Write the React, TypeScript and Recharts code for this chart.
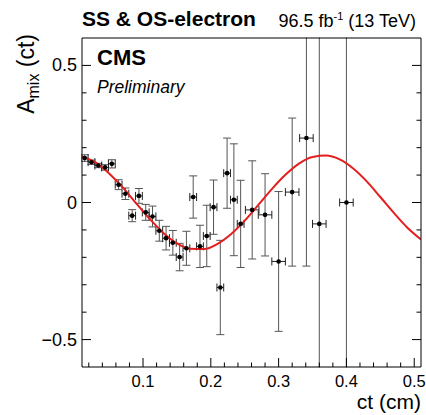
import React from 'react'
import { ComposedChart, Scatter, Line, XAxis, YAxis, ErrorBar } from 'recharts'

// measured points
const ctValues = [
  0.014, 0.024, 0.034, 0.044, 0.054, 0.064, 0.074, 0.084, 0.094, 0.104, 0.114, 0.124,
  0.134, 0.144, 0.154, 0.164, 0.174, 0.184, 0.194, 0.204, 0.214, 0.224, 0.234, 0.244,
  0.261, 0.28, 0.3, 0.32, 0.341, 0.36, 0.4,
]
const amixValues = [
  0.162, 0.147, 0.135, 0.128, 0.141, 0.065, 0.032, -0.048, 0.024, -0.036, -0.051, -0.103,
  -0.13, -0.147, -0.199, -0.167, 0.02, -0.16, -0.122, -0.017, -0.31, 0.107, 0.01, -0.078,
  -0.027, -0.045, -0.215, 0.038, 0.235, -0.078, 0.0,
]
const amixErrors = [
  0.012, 0.008, 0.008, 0.01, 0.015, 0.018, 0.021, 0.022, 0.027, 0.029, 0.038, 0.038,
  0.043, 0.045, 0.05, 0.062, 0.077, 0.077, 0.112, 0.099, 0.172, 0.128, 0.204, 0.159,
  0.179, 0.15, 0.255, 0.27, 0.467, 1.2, 1.2,
]
const ctErrors = [
  0.005, 0.005, 0.005, 0.005, 0.005, 0.005, 0.005, 0.005, 0.005, 0.005, 0.005, 0.005,
  0.005, 0.005, 0.005, 0.005, 0.005, 0.005, 0.005, 0.005, 0.005, 0.005, 0.005, 0.005,
  0.01, 0.01, 0.01, 0.01, 0.01, 0.01, 0.01,
]

// fit curve
const fitCt = [
  0.01, 0.03, 0.05, 0.07, 0.09, 0.11, 0.13, 0.15, 0.17, 0.19, 0.21, 0.23, 0.25,
  0.27, 0.29, 0.31, 0.33, 0.35, 0.37, 0.39, 0.41, 0.43, 0.45, 0.47, 0.49, 0.51,
]
const fitAmix = [
  0.168, 0.146, 0.106, 0.055, -0.003, -0.06, -0.111, -0.149, -0.169, -0.17, -0.151, -0.115, -0.066,
  -0.009, 0.049, 0.101, 0.142, 0.166, 0.171, 0.157, 0.124, 0.077, 0.02, -0.038, -0.092, -0.135,
]

const xTicks = [
  0.02, 0.04, 0.06, 0.08, 0.1, 0.12, 0.14, 0.16, 0.18, 0.2, 0.22, 0.24, 0.26,
  0.28, 0.3, 0.32, 0.34, 0.36, 0.38, 0.4, 0.42, 0.44, 0.46, 0.48, 0.5,
]
const xLabels = ['0.1', '0.2', '0.3', '0.4', '0.5']
const yTicks = [-0.5, -0.4, -0.3, -0.2, -0.1, 0, 0.1, 0.2, 0.3, 0.4, 0.5]
const yLabels = ['\u22120.5', '0', '0.5']

const FONT = '"Liberation Sans", Arial, Helvetica, sans-serif'
const RED = '#e41e1e'

const points = ctValues.map((x, i) => ({ x, y: amixValues[i], xe: ctErrors[i], ye: amixErrors[i] }))
const fitData = fitCt.map((x, i) => ({ x, fit: fitAmix[i] }))

const isMajor = (v: number, step: number) => Math.abs(v / step - Math.round(v / step)) < 1e-6

const BottomTick = (props: any) => {
  const { x, y, payload } = props
  const major = isMajor(payload.value, 0.1)
  return (
    <g>
      <line x1={x} x2={x} y1={y} y2={y - (major ? 9 : 4.5)} stroke="#000" />
      {major && (
        <text x={x} y={y + 20} textAnchor="middle" fontSize={16.5} fontFamily={FONT} fill="#000">
          {xLabels[Math.round(payload.value * 10) - 1]}
        </text>
      )}
    </g>
  )
}

const TopTick = (props: any) => {
  const { x, y, payload } = props
  const major = isMajor(payload.value, 0.1)
  return <line x1={x} x2={x} y1={y} y2={y + (major ? 9 : 4.5)} stroke="#000" />
}

const LeftTick = (props: any) => {
  const { x, y, payload } = props
  const major = isMajor(payload.value, 0.5)
  return (
    <g>
      <line x1={x} x2={x + (major ? 9 : 4.5)} y1={y} y2={y} stroke="#000" />
      {major && (
        <text x={x - 5} y={y + 6} textAnchor="end" fontSize={18} fontFamily={FONT} fill="#000">
          {yLabels[Math.round(payload.value * 2) + 1]}
        </text>
      )}
    </g>
  )
}

const RightTick = (props: any) => {
  const { x, y, payload } = props
  const major = isMajor(payload.value, 0.5)
  return <line x1={x} x2={x - (major ? 9 : 4.5)} y1={y} y2={y} stroke="#000" />
}

const Dot = (props: any) => <circle cx={props.cx} cy={props.cy} r={2.3} fill="#000" />

export default function App() {
  return (
    <div style={{ position: 'absolute', left: 0, top: 0, width: 426, height: 415, background: '#fff' }}>
      <style>{'.recharts-errorBars, .recharts-errorBar { clip-path: url(#plotFrameClip); }'}</style>
      <ComposedChart width={426} height={415} margin={{ top: 37, right: 4, bottom: 47, left: 81 }}>
        <XAxis
          xAxisId={0}
          dataKey="x"
          type="number"
          domain={[0.01, 0.51]}
          allowDataOverflow
          ticks={xTicks}
          interval={0}
          height={1}
          tickSize={0}
          tickMargin={0}
          tick={<BottomTick />}
          axisLine={{ stroke: '#000' }}
          tickLine={false}
        />
        <XAxis
          xAxisId="top"
          orientation="top"
          type="number"
          domain={[0.01, 0.51]}
          allowDataOverflow
          ticks={xTicks}
          interval={0}
          height={1}
          tickSize={0}
          tickMargin={0}
          tick={<TopTick />}
          axisLine={{ stroke: '#000' }}
          tickLine={false}
        />
        <YAxis
          yAxisId={0}
          type="number"
          domain={[-0.6, 0.6]}
          allowDataOverflow
          ticks={yTicks}
          interval={0}
          width={1}
          tickSize={0}
          tickMargin={0}
          tick={<LeftTick />}
          axisLine={{ stroke: '#000' }}
          tickLine={false}
        />
        <YAxis
          yAxisId="right"
          orientation="right"
          type="number"
          domain={[-0.6, 0.6]}
          allowDataOverflow
          ticks={yTicks}
          interval={0}
          width={1}
          tickSize={0}
          tickMargin={0}
          tick={<RightTick />}
          axisLine={{ stroke: '#000' }}
          tickLine={false}
        />
        <Scatter data={points} dataKey="y" shape={<Dot />} isAnimationActive={false}>
          <ErrorBar dataKey="ye" direction="y" width={4} stroke="#555" strokeWidth={1} />
          <ErrorBar dataKey="xe" direction="x" width={4} stroke="#222" strokeWidth={1} />
        </Scatter>
        <Line
          data={fitData}
          dataKey="fit"
          type="monotone"
          dot={false}
          stroke={RED}
          strokeWidth={2}
          isAnimationActive={false}
        />
      </ComposedChart>
      <svg
        width={426}
        height={415}
        style={{ position: 'absolute', left: 0, top: 0, pointerEvents: 'none' }}
        fontFamily={FONT}
      >
        <defs>
          <clipPath id="plotFrameClip" clipPathUnits="userSpaceOnUse">
            <rect x={81.5} y={37.5} width={340} height={330} />
          </clipPath>
        </defs>
        <text x={82} y={26} fontSize={21} fontWeight="bold" fill="#000">
          SS &amp; OS-electron
        </text>
        <text x={416} y={27} fontSize={18} textAnchor="end" fill="#000">
          96.5 fb<tspan dy={-7} fontSize={11}>-1</tspan>
          <tspan dy={7}> (13 TeV)</tspan>
        </text>
        <text x={97} y={65} fontSize={22} fontWeight="bold" fill="#000">
          CMS
        </text>
        <text x={97} y={93} fontSize={17.5} fontStyle="italic" fill="#000">
          Preliminary
        </text>
        <text x={421} y={409} fontSize={21} textAnchor="end" fill="#000">
          ct (cm)
        </text>
        <text transform="translate(34,34) rotate(-90)" fontSize={23} textAnchor="end" fill="#000">
          A<tspan dy={5} fontSize={16}>mix</tspan>
          <tspan dy={-5}> (ct)</tspan>
        </text>
      </svg>
    </div>
  )
}
